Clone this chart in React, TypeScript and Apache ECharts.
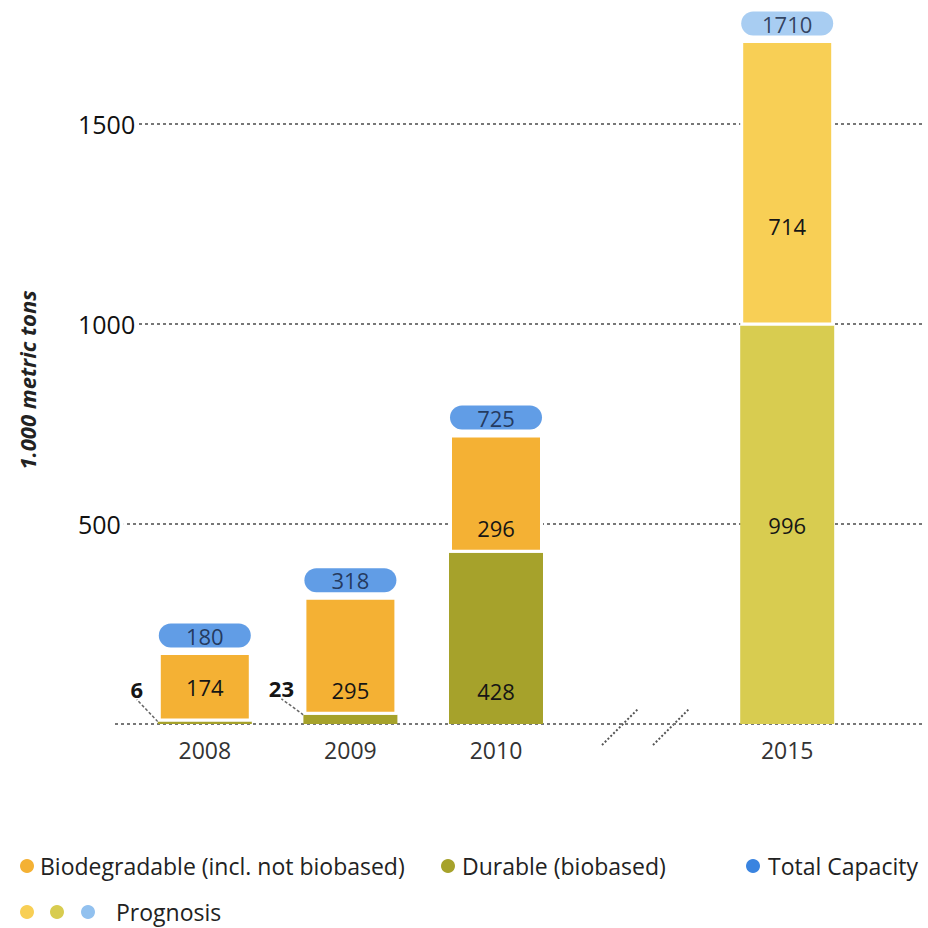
import React, { useEffect, useRef } from "react";
import * as echarts from "echarts";

const categories = ["2008", "2009", "2010", "", "2015"];
const durable = [6, 23, 428, null, 996];
const biodegradable = [174, 295, 296, null, 714];
const totals = [180, 318, 725, null, 1710];
const isPrognosis = [false, false, false, false, true];

const legendRow1 = ["Biodegradable (incl. not biobased)", "Durable (biobased)", "Total Capacity"];
const legendRow2 = "Prognosis";
const yTitle = "1.000 metric tons";

const C = {
  bio: "#f4b134",
  dur: "#a6a22b",
  total: "#3a84e0",
  bioP: "#f8cf55",
  durP: "#d8cc50",
  totalP: "#92c1ef",
  text: "#151515",
  pillText: "#14203a",
};

const FONT = '"Open Sans", sans-serif';

const durLabels: any[] = [
  { position: [-21, -33], align: "center", verticalAlign: "middle", fontWeight: "bold" },
  { position: [-22, -27], align: "center", verticalAlign: "middle", fontWeight: "bold" },
  { position: "insideBottom", distance: 22 },
  {},
  { position: "inside" },
];
const bioLabels: any[] = [
  { position: "inside" },
  { position: "insideBottom", distance: 14 },
  { position: "insideBottom", distance: 14 },
  {},
  { position: "insideBottom", distance: 89 },
];

export default function App() {
  const ref = useRef<HTMLDivElement>(null);
  useEffect(() => {
    if (!ref.current) return;
    const chart = echarts.init(ref.current, undefined, { renderer: "svg" });

    const durData = durable.map((v, i) => ({
      value: v,
      itemStyle: { color: isPrognosis[i] ? C.durP : C.dur },
      label: durLabels[i],
      labelLine: i < 2 ? { show: true, lineStyle: { color: "#666", type: [3, 2], width: 1.5 } } : { show: false },
    }));
    const bioData = biodegradable.map((v, i) => ({
      value: v,
      itemStyle: { color: isPrognosis[i] ? C.bioP : C.bio },
      label: bioLabels[i],
    }));
    const totData = totals.map((v, i) => ({
      value: v,
      label: { backgroundColor: isPrognosis[i] ? C.totalP : C.total },
    }));

    const lineStyle = { color: "#777", type: [3, 3] as any, width: 2 };
    const legendFont = `23px ${FONT}`;

    chart.setOption({
      animation: false,
      backgroundColor: "#fff",
      textStyle: { fontFamily: FONT },
      grid: [
        { left: 132, right: 68, top: 24, bottom: 204 },
        { left: 115, right: 6, top: 124, bottom: 204 },
      ],
      xAxis: [
        {
          type: "category",
          gridIndex: 0,
          data: categories,
          axisLine: { show: false },
          axisTick: { show: false },
          axisLabel: { fontSize: 23, color: "#333", margin: 14, fontFamily: FONT },
        },
        { type: "category", gridIndex: 1, data: ["a"], show: false },
      ],
      yAxis: [
        { type: "value", gridIndex: 0, min: 0, max: 1750, show: false, splitLine: { show: false } },
        {
          type: "value",
          gridIndex: 1,
          min: 0,
          max: 1500,
          interval: 500,
          axisLine: { show: false },
          axisTick: { show: false },
          splitLine: { show: true, lineStyle },
          axisLabel: {
            showMinLabel: false,
            formatter: (v: number) => String(v),
            align: "left",
            margin: 37,
            fontSize: 25,
            color: "#111",
            fontFamily: FONT,
            backgroundColor: "#fff",
            padding: [0, 3, 0, 0],
          },
        },
      ],
      series: [
        {
          name: "Durable (biobased)",
          type: "bar",
          stack: "s",
          xAxisIndex: 0,
          yAxisIndex: 0,
          barWidth: 94,
          data: durData,
          label: { show: true, fontSize: 22, color: C.text, fontFamily: FONT },
        },
        {
          name: "Biodegradable (incl. not biobased)",
          type: "bar",
          stack: "s",
          xAxisIndex: 0,
          yAxisIndex: 0,
          barWidth: 94,
          itemStyle: { borderColor: "#fff", borderWidth: 3 },
          data: bioData,
          label: { show: true, fontSize: 22, color: C.text, fontFamily: FONT },
        },
        {
          name: "Total Capacity",
          type: "scatter",
          xAxisIndex: 0,
          yAxisIndex: 0,
          symbolSize: 1,
          itemStyle: { color: "transparent" },
          data: totData,
          label: {
            show: true,
            position: "top",
            distance: 4,
            width: 92,
            height: 24,
            lineHeight: 24,
            align: "center",
            borderRadius: 12,
            fontSize: 22,
            color: C.pillText,
            fontFamily: FONT,
          },
        },
      ],
      graphic: [
        {
          type: "text",
          x: 27,
          y: 380,
          rotation: Math.PI / 2,
          style: {
            text: yTitle,
            font: `italic bold 22px ${FONT}`,
            fill: "#222",
            align: "center",
            verticalAlign: "middle",
          },
        },
        { type: "line", shape: { x1: 602, y1: 745, x2: 638, y2: 709 }, style: { stroke: "#555", lineWidth: 2, lineDash: [2, 2] } },
        { type: "line", shape: { x1: 653, y1: 745, x2: 689, y2: 709 }, style: { stroke: "#555", lineWidth: 2, lineDash: [2, 2] } },
        { type: "circle", shape: { cx: 27, cy: 866, r: 7 }, style: { fill: C.bio } },
        { type: "text", x: 40, y: 866, style: { text: legendRow1[0], font: legendFont, fill: "#222", verticalAlign: "middle" } },
        { type: "circle", shape: { cx: 448, cy: 866, r: 7 }, style: { fill: C.dur } },
        { type: "text", x: 462, y: 866, style: { text: legendRow1[1], font: legendFont, fill: "#222", verticalAlign: "middle" } },
        { type: "circle", shape: { cx: 753, cy: 866, r: 7 }, style: { fill: C.total } },
        { type: "text", x: 768, y: 866, style: { text: legendRow1[2], font: legendFont, fill: "#222", verticalAlign: "middle" } },
        { type: "circle", shape: { cx: 27, cy: 912, r: 7 }, style: { fill: C.bioP } },
        { type: "circle", shape: { cx: 57, cy: 912, r: 7 }, style: { fill: C.durP } },
        { type: "circle", shape: { cx: 88, cy: 912, r: 7 }, style: { fill: C.totalP } },
        { type: "text", x: 116, y: 912, style: { text: legendRow2, font: legendFont, fill: "#222", verticalAlign: "middle" } },
      ],
    });
    return () => chart.dispose();
  }, []);
  return <div ref={ref} style={{ width: 928, height: 928, position: "absolute", left: 0, top: 0 }} />;
}
